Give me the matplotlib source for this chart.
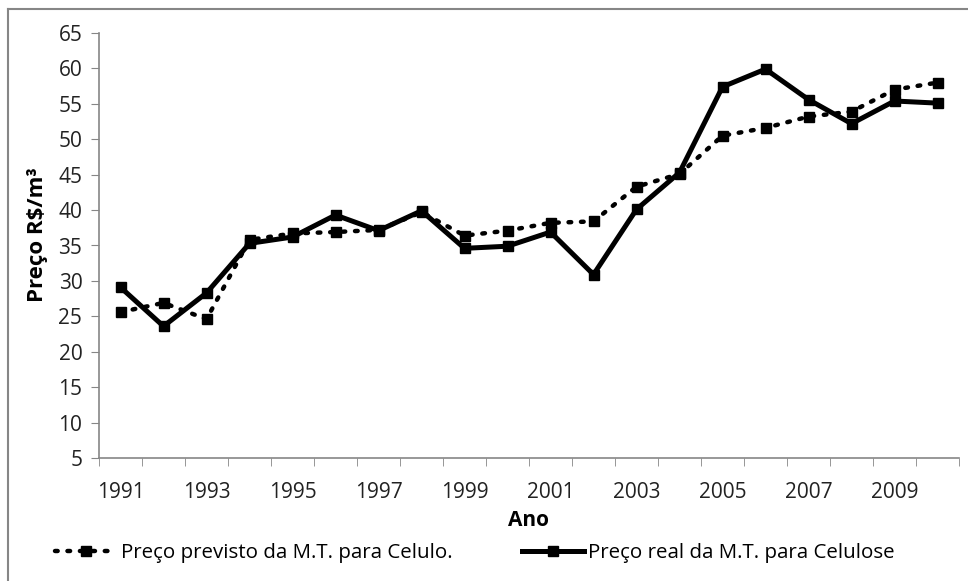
import matplotlib
matplotlib.use("Agg")
import matplotlib.pyplot as plt
from matplotlib.lines import Line2D

years = [str(y) for y in range(1991, 2011)]
previsto = [25.6, 26.9, 24.6, 35.8, 36.7, 36.9, 37.2, 39.7, 36.4, 37.1,
            38.2, 38.4, 43.3, 45.1, 50.5, 51.6, 53.2, 53.9, 57.0, 58.0]
real = [29.1, 23.6, 28.3, 35.3, 36.2, 39.3, 37.1, 39.9, 34.6, 34.9,
        36.9, 30.9, 40.1, 45.3, 57.4, 59.9, 55.6, 52.2, 55.4, 55.1]
label_prev = "Preço previsto da M.T. para Celulo."
label_real = "Preço real da M.T. para Celulose"
yticks = list(range(5, 70, 5))

plt.rcParams['font.family'] = ['Open Sans', 'DejaVu Sans']

W, H = 968, 581
fig = plt.figure(figsize=(W / 100, H / 100), dpi=100)
ax = fig.add_axes([99 / W, 1 - 458 / H, (959 - 99) / W, (458 - 33) / H])

x = list(range(len(years)))
l1, = ax.plot(x, previsto, linestyle=(0, (0.6, 2.2)), dash_capstyle='round', color='black',
              lw=3.2, marker='s', ms=6.5, label=label_prev)
l2, = ax.plot(x, real, linestyle='-', color='black', lw=3.6, marker='s', ms=6.5,
              label=label_real)

ax.set_xlim(-0.5, len(years) - 0.5)
ax.set_ylim(5, 65)
ax.set_yticks(yticks)
ax.set_yticklabels([str(v) for v in yticks])

ax.set_xticks(x[::2])
ax.set_xticklabels(years[::2])
ax.set_xticks([i - 0.5 for i in range(len(years) + 1)], minor=True)
ax.tick_params(axis='x', which='major', length=0, pad=17, labelsize=15, labelcolor='#222222')
ax.tick_params(axis='x', which='minor', length=6, color='#868686', direction='out')
ax.tick_params(axis='y', which='major', length=6, color='#868686', direction='out',
               labelsize=15, labelcolor='#222222', pad=6)

for s in ['top', 'right']:
    ax.spines[s].set_visible(False)
for s in ['left', 'bottom']:
    ax.spines[s].set_color('#868686')
    ax.spines[s].set_linewidth(1.2)

ax.set_xlabel("Ano", fontsize=15, fontweight='bold', labelpad=5)
ax.set_ylabel("Preço R$/m³", fontsize=16, fontweight='bold')
ax.yaxis.set_label_coords((48 - 99) / 860, 0.525)

legy = 1 - 553 / H
lg1 = fig.legend(handles=[l1], loc='center left', bbox_to_anchor=(37 / W, legy),
                 frameon=False, fontsize=14.75, handlelength=3.0, handletextpad=0.2)
lg2 = fig.legend(handles=[l2], loc='center left', bbox_to_anchor=(504 / W, legy),
                 frameon=False, fontsize=14.75, handlelength=3.0, handletextpad=0.2)

# outer chart-area border (left and top visible)
fig.add_artist(Line2D([8 / W, 8 / W], [0, 1 - 9 / H], transform=fig.transFigure,
                      color='#868686', lw=1.5))
fig.add_artist(Line2D([8 / W, 1], [1 - 9 / H, 1 - 9 / H], transform=fig.transFigure,
                      color='#868686', lw=1.5))

fig.savefig("out.png", dpi=100)
